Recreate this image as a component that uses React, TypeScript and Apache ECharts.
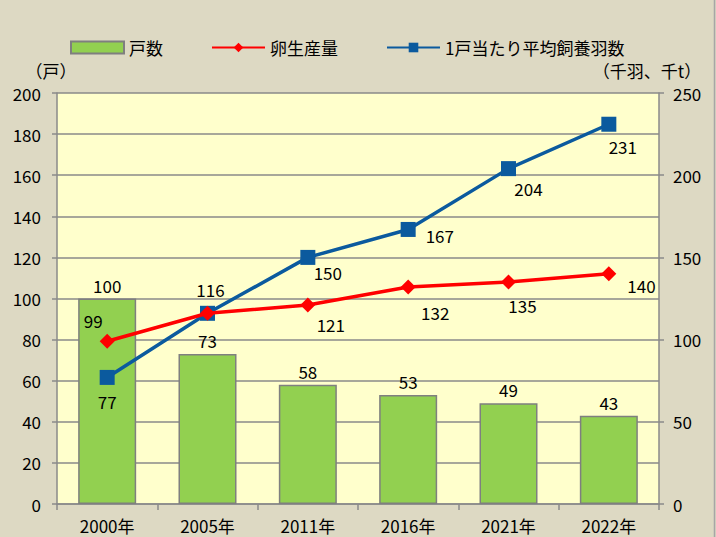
import React, { useEffect, useRef } from "react";
import * as echarts from "echarts";

const categories = ["2000年", "2005年", "2011年", "2016年", "2021年", "2022年"];
const households = [100, 73, 58, 53, 49, 43];
const eggProduction = [99, 116, 121, 132, 135, 140];
const flockPerHousehold = [77, 116, 150, 167, 204, 231];
const leftTicks = { min: 0, max: 200, interval: 20 };
const rightTicks = { min: 0, max: 250, interval: 50 };

const FONT = "'Noto Sans CJK JP', 'Noto Sans', sans-serif";

const redLabels: any[] = [
  { position: "top", offset: [-14, 0] },
  { position: "top", offset: [3, -3] },
  { position: "bottom", offset: [23, -2] },
  { position: "bottom", offset: [27, 5] },
  { position: "bottom", offset: [14, 2] },
  { position: "right", offset: [6, 12] },
];
const blueLabels: any[] = [
  { position: "bottom", offset: [0, 3] },
  { show: false },
  { position: "bottom", offset: [20, -6] },
  { position: "right", offset: [5, 6] },
  { position: "bottom", offset: [20, -1] },
  { position: "bottom", offset: [14, 1] },
];

export default function App() {
  const ref = useRef<HTMLDivElement>(null);
  useEffect(() => {
    document.body.style.margin = "0";
    const chart = echarts.init(ref.current!, null, { renderer: "svg" });
    const txt = { color: "#000", fontSize: 17, fontFamily: FONT };
    chart.setOption({
      animation: false,
      backgroundColor: "#DDD9C3",
      textStyle: { fontFamily: FONT },
      legend: {
        left: 65,
        top: 34,
        itemWidth: 53,
        itemHeight: 12,
        itemGap: 48,
        textStyle: { ...txt },
        data: [
          { name: "戸数", icon: "rect" },
          { name: "卵生産量" },
          { name: "1戸当たり平均飼養羽数" },
        ],
      },
      grid: {
        left: 57,
        right: 57,
        top: 93,
        bottom: 33,
        containLabel: false,
        outerBoundsMode: "none",
        show: true,
        backgroundColor: "#FFFFCC",
        borderWidth: 0,
      },
      graphic: [
        {
          type: "line",
          shape: { x1: 714.5, y1: 0, x2: 714.5, y2: 537 },
          style: { stroke: "#A6A6A6", lineWidth: 1.5 },
        },
      ],
      xAxis: {
        type: "category",
        data: categories,
        axisLine: { lineStyle: { color: "#8A8A8A", width: 1.5 } },
        axisTick: { show: true, length: 6, lineStyle: { color: "#8A8A8A", width: 1.5 } },
        axisLabel: { ...txt, margin: 13, lineHeight: 17 },
      },
      yAxis: [
        {
          type: "value",
          ...leftTicks,
          name: "（戸）",
          nameLocation: "end",
          nameGap: 14,
          nameTextStyle: { ...txt, align: "center", lineHeight: 17, padding: [0, 12, 0, 0] },
          axisLine: { show: true, lineStyle: { color: "#8A8A8A", width: 1.5 } },
          axisTick: { show: true, length: 5, lineStyle: { color: "#8A8A8A", width: 1.5 } },
          axisLabel: { ...txt, margin: 16 },
          splitLine: { lineStyle: { color: "#8A8A8A", width: 1.5 } },
        },
        {
          type: "value",
          ...rightTicks,
          name: "（千羽、千t）",
          nameLocation: "end",
          nameGap: 14,
          nameTextStyle: { ...txt, align: "center", lineHeight: 17, padding: [0, 24, 0, 0] },
          axisLine: { show: true, lineStyle: { color: "#8A8A8A", width: 1.5 } },
          axisTick: { show: true, length: 5, lineStyle: { color: "#8A8A8A", width: 1.5 } },
          axisLabel: { ...txt, margin: 14 },
          splitLine: { show: false },
        },
      ],
      series: [
        {
          name: "戸数",
          type: "bar",
          data: households,
          barWidth: 58,
          itemStyle: { color: "#92D050", borderColor: "#7F7F7F", borderWidth: 1.5 },
          label: { show: true, position: "top", ...txt },
          z: 1,
        },
        {
          name: "卵生産量",
          type: "line",
          yAxisIndex: 1,
          data: eggProduction.map((v, i) => ({ value: v, label: redLabels[i] })),
          symbol: "diamond",
          symbolSize: 15,
          lineStyle: { color: "#FF0000", width: 3.5 },
          itemStyle: { color: "#FF0000" },
          label: { show: true, ...txt },
          z: 3,
        },
        {
          name: "1戸当たり平均飼養羽数",
          type: "line",
          yAxisIndex: 1,
          data: flockPerHousehold.map((v, i) => ({ value: v, label: blueLabels[i] })),
          symbol: "rect",
          symbolSize: 15,
          lineStyle: { color: "#0B5A9E", width: 3.5 },
          itemStyle: { color: "#0B5A9E" },
          label: { show: true, ...txt },
          z: 2,
        },
      ],
    });
    return () => chart.dispose();
  }, []);
  return <div ref={ref} style={{ width: 716, height: 537 }} />;
}
